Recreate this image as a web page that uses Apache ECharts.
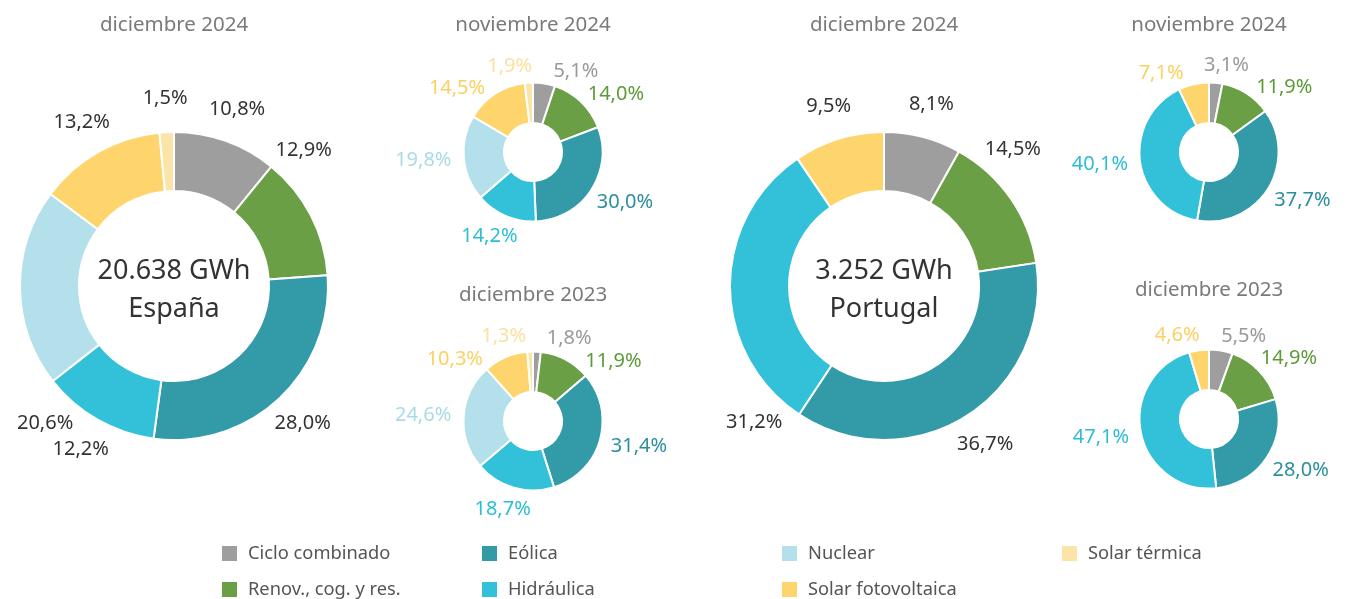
<!DOCTYPE html>
<html>
<head>
<meta charset="utf-8">
<script src="https://cdn.jsdelivr.net/npm/echarts@6/dist/echarts.min.js"></script>
<style>
html, body { margin: 0; padding: 0; background: #fff; }
#main { width: 1348px; height: 599px; }
</style>
</head>
<body>
<div id="main"></div>
<script>
var categories = ['Ciclo combinado', 'Renov., cog. y res.', 'Eólica', 'Hidráulica', 'Nuclear', 'Solar fotovoltaica', 'Solar térmica'];

// % por tecnologia (null = no aplica)
var espDic24 = [10.8, 12.9, 28.0, 12.2, 20.6, 13.2, 1.5];
var espNov24 = [5.1, 14.0, 30.0, 14.2, 19.8, 14.5, 1.9];
var espDic23 = [1.8, 11.9, 31.4, 18.7, 24.6, 10.3, 1.3];
var porDic24 = [8.1, 14.5, 36.7, 31.2, null, 9.5, null];
var porNov24 = [3.1, 11.9, 37.7, 40.1, null, 7.1, null];
var porDic23 = [5.5, 14.9, 28.0, 47.1, null, 4.6, null];

var totals = ['20.638 GWh', '3.252 GWh'];
var countries = ['España', 'Portugal'];
var periods = ['diciembre 2024', 'noviembre 2024', 'diciembre 2023'];

var colors = ['#9e9e9e', '#6a9f45', '#339aa8', '#33c1d9', '#b3e0ea', '#fdd56c', '#fbe4a8'];
var labelColors = ['#9a9a9a', '#5e9a38', '#2b8f9c', '#2ebdd5', '#a9dbe7', '#fcd062', '#fbe0a0'];

var font = '"Noto Sans", "Open Sans", sans-serif';
var labelSize = 20;
var myChart = echarts.init(document.getElementById('main'));

var ctx = document.createElement('canvas').getContext('2d');
ctx.font = labelSize + 'px ' + font;

function fmt(v) {
    return v.toFixed(1).replace('.', ',') + '%';
}

function midAngles(vals) {
    var total = 0, acc = 0, out = [];
    for (var i = 0; i < vals.length; i++) total += vals[i];
    for (var j = 0; j < vals.length; j++) {
        out.push((acc + vals[j] / 2) / total * 360);
        acc += vals[j];
    }
    return out;
}

/* donuts grandes: etiquetas sobre un circulo, girando hacia arriba/abajo si no caben */
function bigLabelLayout(vals, center) {
    var R = 188, halfSpan = 158;
    var mids = midAngles(vals);
    return function (p) {
        var mid = mids[p.dataIndex];
        var half = p.labelRect.width / 2;
        var step = (mid < 90 || (mid >= 180 && mid < 270)) ? -0.5 : 0.5;
        var a = mid;
        for (var k = 0; k < 400; k++) {
            var off = Math.abs(R * Math.sin(a * Math.PI / 180));
            if (off + half <= halfSpan) break;
            a += step;
        }
        var rad = a * Math.PI / 180;
        return {
            x: center[0] + R * Math.sin(rad),
            y: center[1] - R * Math.cos(rad),
            align: 'center',
            verticalAlign: 'middle',
            hideOverlap: false
        };
    };
}

/* donuts pequeños: caja pegada al borde y separacion de etiquetas que se pisan */
function smallLabelLayout(vals, center) {
    var r0 = 82, h = 20, padX = 20, padY = 2;
    var angles = midAngles(vals);
    var widths = vals.map(function (v) { return ctx.measureText(fmt(v)).width; });
    function box(i) {
        var rad = angles[i] * Math.PI / 180;
        var s = Math.sin(rad), c = Math.cos(rad);
        var x = center[0] + r0 * s + s * widths[i] / 2;
        var y = center[1] - r0 * c - c * (c > 0 ? 6 : 10);
        return { x: x, y: y, w: widths[i], h: h };
    }
    function hit(a, b) {
        return Math.abs(a.x - b.x) < (a.w + b.w) / 2 + padX && Math.abs(a.y - b.y) < (a.h + b.h) / 2 + padY;
    }
    var n = vals.length;
    for (var it = 0; it < 400; it++) {
        var moved = false;
        for (var i = 0; i < n; i++) {
            var j = (i + 1) % n;
            if (hit(box(i), box(j))) {
                angles[i] -= 0.5;
                angles[j] += 0.5;
                moved = true;
            }
        }
        if (!moved) break;
    }
    return function (p) {
        var b = box(p.dataIndex);
        return { x: b.x, y: b.y, align: 'center', verticalAlign: 'middle', hideOverlap: false };
    };
}

function makeDonut(values, center, big) {
    var data = [];
    var vals = [];
    for (var i = 0; i < categories.length; i++) {
        if (values[i] == null) continue;
        vals.push(values[i]);
        data.push({
            name: categories[i],
            value: values[i],
            itemStyle: { color: colors[i] },
            label: { color: big ? '#333' : labelColors[i] }
        });
    }
    return {
        type: 'pie',
        center: center,
        radius: big ? [95, 154] : [29, 69.5],
        startAngle: 90,
        clockwise: true,
        animation: false,
        silent: true,
        itemStyle: { borderColor: '#fff', borderWidth: 2 },
        label: {
            show: true,
            position: 'outside',
            overflow: 'none',
            fontFamily: font,
            fontSize: labelSize,
            formatter: function (p) { return fmt(p.value); }
        },
        labelLine: { show: false, length: 12, length2: 0 },
        labelLayout: big ? bigLabelLayout(vals, center) : smallLabelLayout(vals, center),
        data: data
    };
}

var centers = [[174, 286], [533, 152], [533, 421], [884, 286], [1209, 152], [1209, 419]];

var series = [
    makeDonut(espDic24, centers[0], true),
    makeDonut(espNov24, centers[1], false),
    makeDonut(espDic23, centers[2], false),
    makeDonut(porDic24, centers[3], true),
    makeDonut(porNov24, centers[4], false),
    makeDonut(porDic23, centers[5], false)
];

var titleText = [
    [periods[0], 174, 25], [periods[1], 533, 25], [periods[2], 533, 295],
    [periods[0], 884, 25], [periods[1], 1209, 25], [periods[2], 1209, 290]
];
var graphics = [];
titleText.forEach(function (t) {
    graphics.push({
        type: 'text', x: t[1], y: t[2], silent: true,
        style: { text: t[0], align: 'center', verticalAlign: 'middle', fill: '#7a7a7a', fontSize: 20.5, fontFamily: font }
    });
});
[0, 1].forEach(function (k) {
    var c = centers[k * 3];
    graphics.push({
        type: 'text', x: c[0], y: c[1] + 4, silent: true,
        style: {
            text: totals[k] + '\n' + countries[k], align: 'center', verticalAlign: 'middle',
            fill: '#333', fontSize: 27, lineHeight: 38, fontFamily: font
        }
    });
});

function legendCol(names, left) {
    return {
        data: names,
        left: left,
        top: 544,
        orient: 'vertical',
        padding: 0,
        itemGap: 17,
        itemWidth: 17,
        itemHeight: 17,
        icon: 'rect',
        selectedMode: false,
        textStyle: { color: '#555', fontSize: 18.3, fontFamily: font, padding: [0, 0, 0, 5] }
    };
}

myChart.setOption({
    animation: false,
    color: colors,
    legend: [
        legendCol([categories[0], categories[1]], 220),
        legendCol([categories[2], categories[3]], 480),
        legendCol([categories[4], categories[5]], 780),
        legendCol([categories[6]], 1060)
    ],
    graphic: graphics,
    series: series
});
</script>
</body>
</html>
